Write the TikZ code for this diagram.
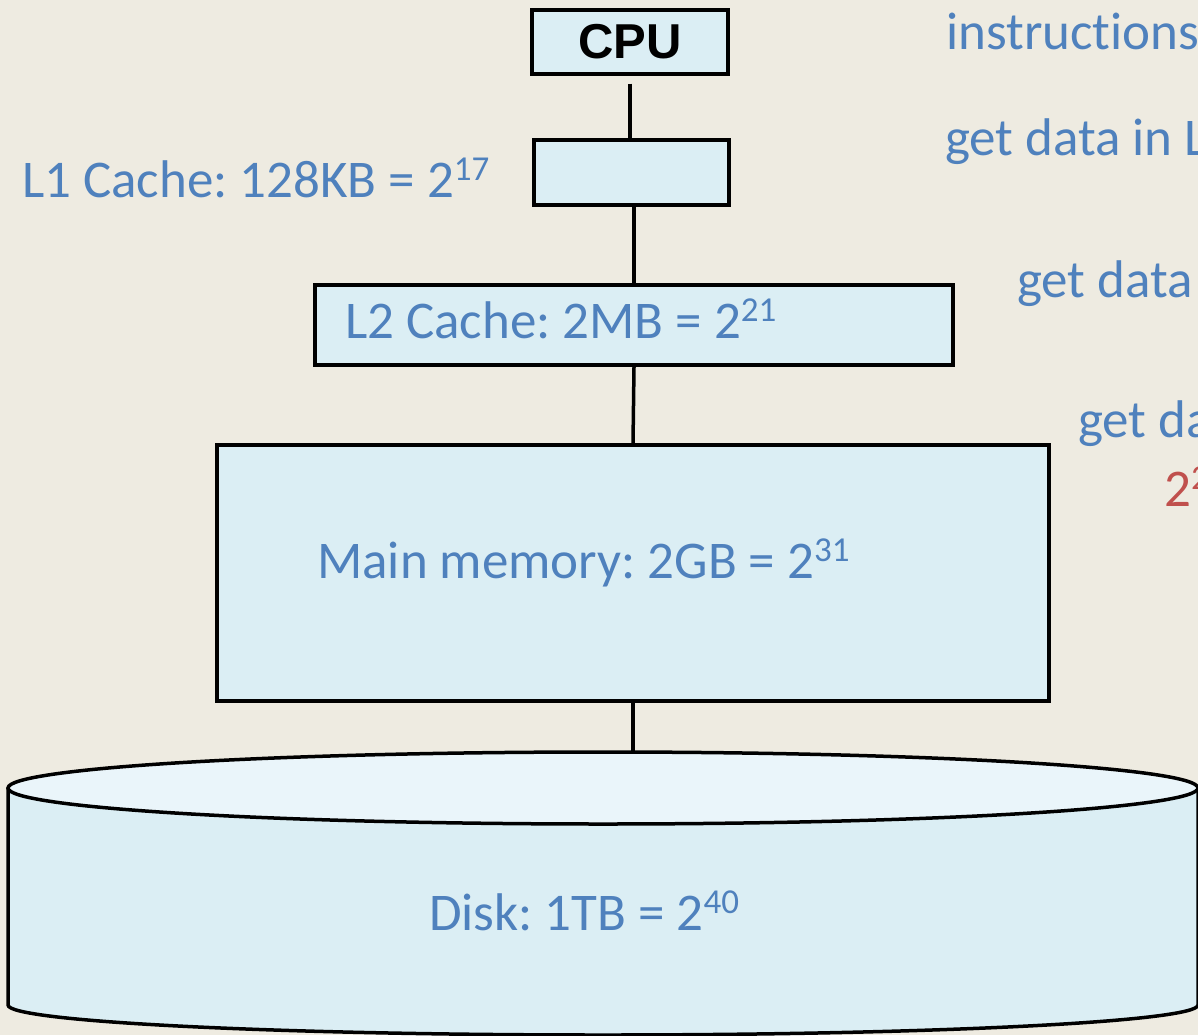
\documentclass[tikz,border=0pt]{standalone}
\usepackage{fontspec}
\setmainfont{Carlito}[Ligatures=NoCommon]
\newfontfamily\labelsans{Liberation Sans}
\definecolor{pagebg}{HTML}{EEEBE1}
\definecolor{boxfill}{HTML}{DBEEF4}
\definecolor{lidfill}{HTML}{EAF5FA}
\definecolor{txtblue}{HTML}{4F81BD}
\definecolor{txtred}{HTML}{C0504D}
% raised exponent, about two thirds of the label size
\newcommand\pw[1]{\raisebox{17pt}{\fontsize{35}{40}\selectfont #1}}
\tikzset{
  level/.style={draw=black, line width=3.5pt, fill=boxfill, inner sep=0pt},
  link/.style={draw=black, line width=3.5pt},
  lbl/.style={text=txtblue, font=\frenchspacing\fontsize{53}{62}\selectfont, inner sep=0pt, anchor=base west},
}
\begin{document}
\begin{tikzpicture}[x=1pt, y=-1pt]
  \useasboundingbox (0,0) rectangle (1198,1035);
  \fill[pagebg] (0,0) rectangle (1198,1035);
  \clip (0,0) rectangle (1198,1035);

  % memory levels
  \node[level, minimum width=196pt, minimum height=64pt,
        font=\labelsans\bfseries\fontsize{49}{58}\selectfont] (cpu) at (630,42) {CPU};
  \node[level, minimum width=195pt, minimum height=65pt] (l1) at (631.5,172.5) {};
  \node[level, minimum width=638pt, minimum height=80pt] (l2) at (634,325) {};
  \node[level, minimum width=832pt, minimum height=256pt] (mem) at (633,573) {};

  % disk drum
  \fill[boxfill] (8,788) -- (8,1005) arc[start angle=180, end angle=360, x radius=595pt, y radius=30pt]
        -- (1198,788) -- cycle;
  \draw[link] (8,788) -- (8,1005) arc[start angle=180, end angle=360, x radius=595pt, y radius=30pt]
        -- (1198,788);
  \draw[link, fill=lidfill] (603,788) ellipse[x radius=595pt, y radius=36pt];
  \coordinate (disktop) at (633,752);

  % connectors
  \draw[link, shorten <=8pt] (cpu.south) -- (cpu.south |- l1.north);
  \draw[link] (l2.north |- l1.south) -- (l2.north);
  \draw[link] (l2.south) -- (mem.north);
  \draw[link] (mem.south) -- (disktop);

  % level labels
  \node[lbl] (l1txt) at (22,197) {L1 Cache: 128KB = 2\pw{17}};
  \node[lbl] (l2txt) at (345,338) {L2 Cache: 2MB = 2\pw{21}};
  \node[lbl] (memtxt) at (317,578) {Main memory: 2GB = 2\pw{31}};
  \node[lbl] (disktxt) at (429,930) {Disk: 1TB = 2\pw{40}};

  % access notes on the right
  \node[lbl] (n1) at (946,50) {instructions};
  \node[lbl] (n2) at (945,156) {get data in L1};
  \node[lbl] (n3) at (1017,297) {get data in L2};
  \node[lbl] (n4) at (1078,437) {get data in main memory};
  \node[lbl, text=txtred] (n5) at (1164,506) {2\pw{20}};
\end{tikzpicture}
\end{document}
